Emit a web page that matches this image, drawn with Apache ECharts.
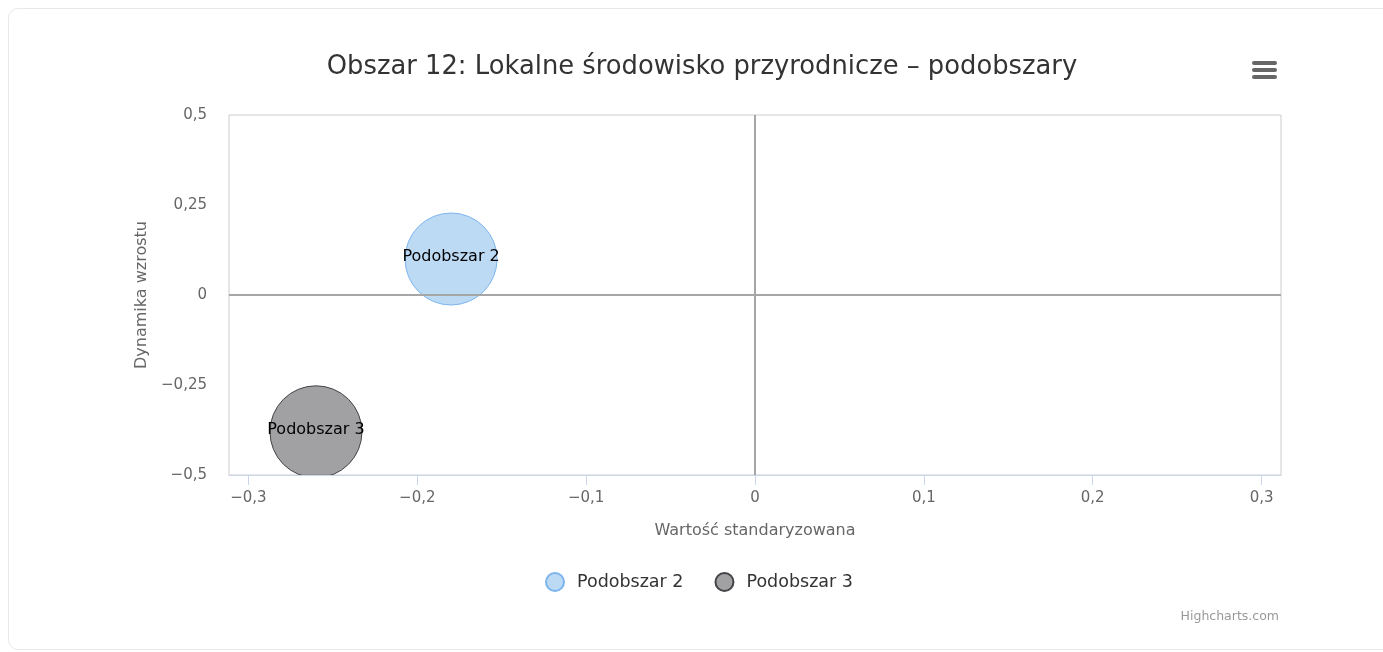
<!DOCTYPE html>
<html>
<head>
<meta charset="utf-8">
<script src="https://cdn.jsdelivr.net/npm/echarts@6/dist/echarts.min.js"></script>
<style>
	html, body { margin: 0; padding: 0; background: #fff; overflow: hidden; }
	.frame {
		position: absolute; left: 8px; top: 8px; width: 1420px; height: 642px;
		border: 1px solid #e8e8e8; border-radius: 10px; box-sizing: border-box;
	}
	#chart { position: absolute; left: 0; top: 0; width: 1383px; height: 652px; }
</style>
</head>
<body>
<div class="frame"></div>
<div id="chart"></div>
<script>
'use strict';

// dane
var seriesNames = ['Podobszar 2', 'Podobszar 3'];
var xValues = [-0.18, -0.26];
var yValues = [0.10, -0.38];
var zValues = [1, 1];
var xTicks = [-0.3, -0.2, -0.1, 0, 0.1, 0.2, 0.3];
var yTicks = [-0.5, -0.25, 0, 0.25, 0.5];

var Page = {
	colors: [
		{ fill: 'rgba(124,181,236,0.5)', border: '#7cb5ec' },
		{ fill: 'rgba(67,67,72,0.5)', border: '#434348' }
	],
	font: 'DejaVu Sans',
	init: function() {
		var myChart = echarts.init(document.getElementById('chart'), null, { renderer: 'canvas' });
		myChart.setOption(Page.option());
		Page.mask(myChart);
	}
};

Page.fmt = function(v) {
	return String(+v.toFixed(2)).replace('.', ',').replace('-', '\u2212');
};

Page.menuIcon = function() {
	return {
		type: 'group',
		left: 1252,
		top: 61,
		children: [0, 7, 14].map(function(y) {
			return { type: 'rect', shape: { x: 0, y: y, width: 25, height: 4, r: 2 }, style: { fill: '#666' } };
		})
	};
};

Page.series = function() {
	var list = [];
	for (var i = 0; i < seriesNames.length; i++) {
		var s = {
			name: seriesNames[i],
			type: 'scatter',
			z: 2,
			data: [[xValues[i], yValues[i], zValues[i]]],
			symbolSize: function(d) { return 92 * Math.sqrt(d[2]); },
			itemStyle: {
				color: Page.colors[i].fill,
				borderColor: Page.colors[i].border,
				borderWidth: 1,
				opacity: 1
			},
			label: {
				show: true,
				position: 'inside',
				formatter: '{a}',
				color: '#000',
				fontFamily: Page.font,
				fontSize: 16,
				offset: [0, -2]
			},
			emphasis: { disabled: true }
		};
		list.push(s);
	}
	// linie zerowe
	list[0].markLine = {
		silent: true,
		symbol: 'none',
		label: { show: false },
		emphasis: { disabled: true },
		lineStyle: { color: '#a6a6a6', width: 2, type: 'solid' },
		data: [{ xAxis: 0 }, { yAxis: 0 }]
	};
	return list;
};

Page.option = function() {
	return {
		animation: false,
		textStyle: { fontFamily: Page.font },
		title: [{
			text: 'Obszar 12: Lokalne środowisko przyrodnicze – podobszary',
			left: 697,
			top: 49,
			textAlign: 'center',
			textStyle: { color: '#333', fontSize: 25.8, fontWeight: 'normal', fontFamily: Page.font }
		}, {
			text: 'Highcharts.com',
			right: 99,
			top: 605,
			textStyle: { color: '#999', fontSize: 12.5, fontWeight: 'normal', fontFamily: Page.font }
		}],
		graphic: [Page.menuIcon()],
		legend: {
			left: 540,
			top: 567,
			icon: 'circle',
			itemWidth: 34,
			itemHeight: 18,
			itemGap: 31,
			textStyle: { color: '#333', fontSize: 17.5, fontFamily: Page.font },
			data: seriesNames
		},
		grid: {
			left: 229,
			right: 102,
			top: 115,
			bottom: 177,
			show: true,
			borderColor: '#ccc',
			borderWidth: 1,
			containLabel: false
		},
		xAxis: {
			type: 'value',
			min: -0.3115,
			max: 0.3115,
			z: 60,
			name: 'Wartość standaryzowana',
			nameLocation: 'middle',
			nameGap: 48,
			nameTextStyle: { color: '#666', fontSize: 16, fontFamily: Page.font },
			axisLine: { show: true, onZero: false, lineStyle: { color: '#ccd6eb', width: 1 } },
			axisTick: { show: true, length: 10, customValues: xTicks, lineStyle: { color: '#ccd6eb' } },
			axisLabel: { color: '#666', fontSize: 15, margin: 16, customValues: xTicks, formatter: Page.fmt },
			splitLine: { show: false }
		},
		yAxis: {
			type: 'value',
			min: -0.5,
			max: 0.5,
			interval: 0.25,
			name: 'Dynamika wzrostu',
			nameLocation: 'middle',
			nameGap: 75,
			nameTextStyle: { color: '#666', fontSize: 16, fontFamily: Page.font },
			axisLine: { show: false },
			axisTick: { show: false },
			axisLabel: { color: '#666', fontSize: 15, margin: 22, customValues: yTicks, formatter: Page.fmt },
			splitLine: { show: false }
		},
		series: Page.series()
	};
};

// bąble przycięte do obszaru wykresu: biały pas pod osią X
Page.mask = function(myChart) {
	var left = myChart.convertToPixel({ xAxisIndex: 0 }, -0.3115);
	var right = myChart.convertToPixel({ xAxisIndex: 0 }, 0.3115);
	var bottom = myChart.convertToPixel({ yAxisIndex: 0 }, -0.5);
	myChart.setOption({
		graphic: [Page.menuIcon(), {
			type: 'rect',
			z: 50,
			silent: true,
			shape: { x: left + 1, y: bottom + 1, width: right - left - 2, height: 8 },
			style: { fill: '#fff' }
		}]
	});
};

Page.init();
</script>
</body>
</html>
